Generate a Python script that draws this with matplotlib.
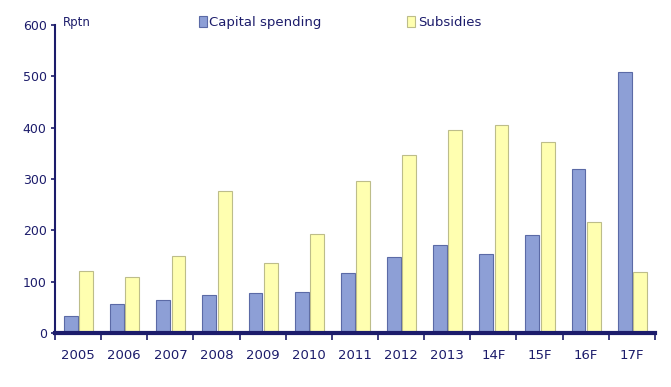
import matplotlib
matplotlib.use("Agg")
import matplotlib.pyplot as plt
import numpy as np

years = ["2005", "2006", "2007", "2008", "2009", "2010", "2011", "2012", "2013", "14F", "15F", "16F", "17F"]
capital = [33, 57, 64, 74, 78, 80, 117, 148, 171, 154, 190, 320, 508]
subsidies = [121, 109, 150, 276, 136, 193, 296, 347, 395, 405, 372, 216, 119]

navy = "#1c1c6b"
fig = plt.figure(figsize=(6.71, 3.87), dpi=100)
ax = fig.add_axes([0.082, 0.140, 0.894, 0.795])

x = np.arange(len(years))
w = 0.3
ax.bar(x - 0.155, capital, w, color="#8d9fd6", edgecolor="#5b6aa6", linewidth=0.8, label="Capital spending")
ax.bar(x + 0.175, subsidies, w, color="#ffffb0", edgecolor="#bdbd8a", linewidth=0.8, label="Subsidies")

ax.set_xlim(-0.5, len(years) - 0.5)
ax.set_ylim(0, 600)
ax.set_yticks(range(0, 601, 100))
ax.set_xticks(x)
ax.set_xticklabels(years)
ax.set_xticks(np.arange(len(years) + 1) - 0.5, minor=True)
ax.tick_params(axis="x", which="major", length=0, pad=12, labelsize=9.5, labelcolor=navy)
ax.tick_params(axis="x", which="minor", length=5, width=1.2, color=navy, direction="out")
ax.tick_params(axis="y", length=3, width=1.2, color=navy, direction="out", labelsize=9, labelcolor=navy, pad=3)

for s in ["top", "right"]:
    ax.spines[s].set_visible(False)
ax.spines["left"].set_color(navy)
ax.spines["left"].set_linewidth(1.5)
ax.spines["bottom"].set_color(navy)
ax.spines["bottom"].set_linewidth(3)

ax.text(0.013, 1.01, "Rptn", transform=ax.transAxes, fontsize=8.5, color=navy, va="center", ha="left")

leg = ax.legend(loc="center", bbox_to_anchor=(0.475, 1.01), ncol=2, frameon=False,
                handlelength=0.6, handleheight=0.9, handletextpad=0.2, columnspacing=6.5,
                fontsize=9.5)
for t in leg.get_texts():
    t.set_color(navy)

fig.savefig("out.png", dpi=100)
